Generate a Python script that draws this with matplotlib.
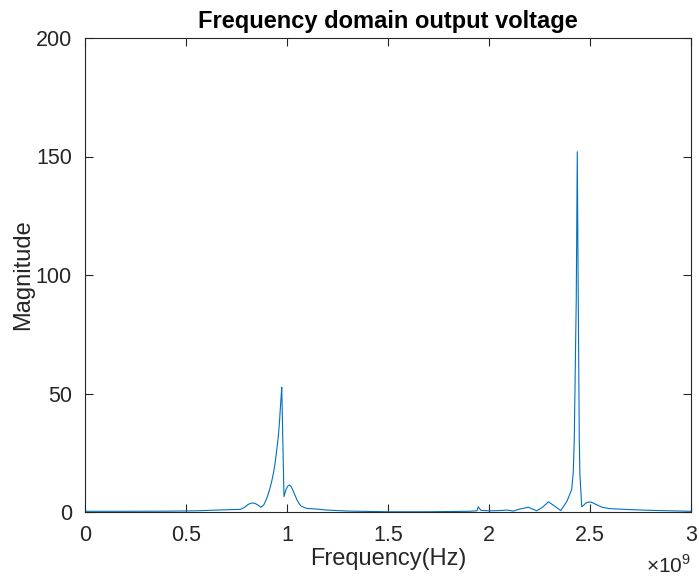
import numpy as np
import matplotlib
matplotlib.use("Agg")
import matplotlib.pyplot as plt
from matplotlib.ticker import FuncFormatter

plt.rcParams['font.family'] = ['Liberation Sans', 'DejaVu Sans']
plt.rcParams['mathtext.fontset'] = 'custom'
plt.rcParams['mathtext.rm'] = 'Liberation Sans'

# Спектр вихідної напруги (частота в ГГц, амплітуда)
freq_ghz = [0.0, 0.2, 0.4, 0.55, 0.65, 0.72, 0.77, 0.79, 0.81, 0.825, 0.84,
            0.855, 0.871, 0.885, 0.895, 0.903, 0.914, 0.924, 0.933, 0.94,
            0.949, 0.956, 0.962, 0.968, 0.972, 0.974, 0.985, 0.995, 1.003,
            1.011, 1.02, 1.03, 1.04, 1.05, 1.06, 1.07, 1.085, 1.10, 1.15,
            1.2, 1.3, 1.5, 1.7, 1.9, 1.94, 1.947, 1.96, 2.0, 2.05, 2.09,
            2.12, 2.15, 2.195, 2.236, 2.265, 2.294, 2.325, 2.355, 2.385,
            2.409, 2.417, 2.422, 2.432, 2.437, 2.441, 2.447, 2.450, 2.459,
            2.464, 2.48, 2.495, 2.508, 2.53, 2.56, 2.6, 2.7, 2.8, 2.9, 3.0]
magnitude = [0.3, 0.3, 0.35, 0.5, 0.8, 1.0, 1.1, 2.0, 3.3, 3.8, 3.7,
             3.0, 2.0, 3.0, 4.8, 6.5, 9.5, 12.8, 16.5, 20.0,
             26.0, 31.0, 37.0, 45.0, 50.0, 52.6, 6.5, 9.5, 10.8,
             11.4, 10.8, 9.0, 7.0, 5.0, 3.5, 2.5, 1.9, 1.5, 1.2,
             0.8, 0.4, 0.1, 0.1, 0.3, 0.5, 2.2, 0.7, 0.5, 0.6, 0.8,
             0.4, 1.2, 2.0, 0.5, 2.0, 4.3, 2.5, 0.6, 4.4,
             9.3, 16.5, 30.0, 90.0, 152.0, 100.0, 30.0, 16.0, 2.2,
             2.5, 3.8, 4.2, 4.1, 3.2, 2.0, 1.4, 1.0, 0.7, 0.5, 0.3]

x_ticks = [0, 0.5, 1, 1.5, 2, 2.5, 3]
y_ticks = [0, 50, 100, 150, 200]

axis_col = '#262626'

fig = plt.figure(figsize=(6.99, 5.81), dpi=100)
ax = fig.add_axes([85 / 699, 69 / 581, 606 / 699, 474 / 581])

freq_hz = np.array(freq_ghz) * 1e9
ax.plot(freq_hz, magnitude, color='#0072BD', linewidth=0.8)

ax.set_xlim(0, 3e9)
ax.set_ylim(0, 200)
ax.set_xticks([t * 1e9 for t in x_ticks])
ax.set_yticks(y_ticks)
ax.xaxis.set_major_formatter(FuncFormatter(lambda v, p: f"{v / 1e9:g}"))

ax.tick_params(direction='in', length=6, width=0.8, colors=axis_col,
               labelsize=15.5, top=True, right=True, pad=9.5)
for s in ax.spines.values():
    s.set_color(axis_col)
    s.set_linewidth(0.8)

ax.set_title('Frequency domain output voltage', fontsize=17,
             fontweight='bold', color='black', pad=7)
ax.set_xlabel('Frequency(Hz)', fontsize=17, color=axis_col, labelpad=1)
ax.set_ylabel('Magnitude', fontsize=17, color=axis_col, labelpad=1)

# множник осі частот, як у MATLAB, під правим краєм
ax.text(1.0, -0.112, r'$\times10^{9}$', transform=ax.transAxes,
        ha='right', va='center', fontsize=15, color=axis_col)

fig.savefig('out.png', dpi=100)
